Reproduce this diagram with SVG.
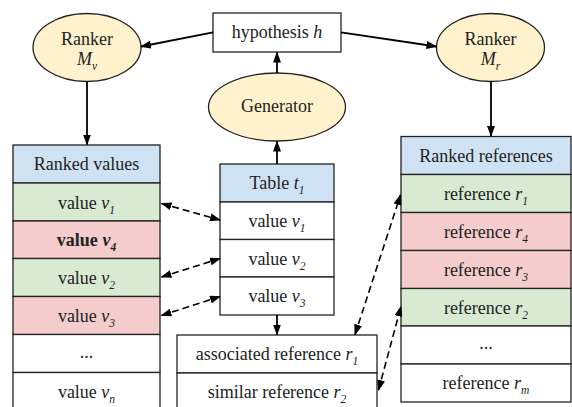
<svg xmlns="http://www.w3.org/2000/svg" width="572" height="407" viewBox="0 0 572 407">
<defs>
<marker id="ah" markerUnits="userSpaceOnUse" markerWidth="11" markerHeight="8" refX="10" refY="4" orient="auto-start-reverse">
<path d="M0,0 L11,4 L0,8 z" fill="#000"/>
</marker>
</defs>

<g id="hypothesis">
<rect x="213" y="13" width="128" height="39" fill="#fff" stroke="#222" stroke-width="1.3"/>
<text x="277" y="38" font-family="Liberation Serif" font-size="18" text-anchor="middle" fill="#222">hypothesis  <tspan font-style="italic">h</tspan></text>
</g>

<g id="rankerMv">
<ellipse cx="87" cy="47.5" rx="54" ry="34" fill="#fff2cc" stroke="#222" stroke-width="1.3"/>
<text x="87" y="45" font-family="Liberation Serif" font-size="18" text-anchor="middle" fill="#222">Ranker</text>
<text x="87" y="65" font-family="Liberation Serif" font-size="18" text-anchor="middle" fill="#222"><tspan font-style="italic">M</tspan><tspan font-style="italic" font-size="11.5" dy="5">v</tspan></text>
</g>

<g id="rankerMr">
<ellipse cx="490.5" cy="47.5" rx="54" ry="34" fill="#fff2cc" stroke="#222" stroke-width="1.3"/>
<text x="490.5" y="45" font-family="Liberation Serif" font-size="18" text-anchor="middle" fill="#222">Ranker</text>
<text x="490.5" y="65" font-family="Liberation Serif" font-size="18" text-anchor="middle" fill="#222"><tspan font-style="italic">M</tspan><tspan font-style="italic" font-size="11.5" dy="5">r</tspan></text>
</g>

<g id="generator">
<ellipse cx="277" cy="107" rx="68.5" ry="34" fill="#fff2cc" stroke="#222" stroke-width="1.3"/>
<text x="277" y="112" font-family="Liberation Serif" font-size="18" text-anchor="middle" fill="#222">Generator</text>
</g>

<g id="rankedValues">
<g stroke="#222" stroke-width="1.3">
<rect x="13" y="145" width="147" height="38" fill="#cfe2f3"/>
<rect x="13" y="183" width="147" height="38" fill="#d9ead3"/>
<rect x="13" y="221" width="147" height="37.5" fill="#f4cccc"/>
<rect x="13" y="258.5" width="147" height="38" fill="#d9ead3"/>
<rect x="13" y="296.5" width="147" height="38" fill="#f4cccc"/>
<rect x="13" y="334.5" width="147" height="38" fill="#fff"/>
<rect x="13" y="372.5" width="147" height="40" fill="#fff"/>
</g>
<text x="86.5" y="170" font-family="Liberation Serif" font-size="18" text-anchor="middle" fill="#222">Ranked values</text>
<text x="86.5" y="208.5" font-family="Liberation Serif" font-size="18" text-anchor="middle" fill="#222">value <tspan font-style="italic">v</tspan><tspan font-style="italic" font-size="11.5" dy="5">1</tspan></text>
<text x="86.5" y="246" font-family="Liberation Serif" font-size="18" text-anchor="middle" fill="#222" font-weight="bold">value <tspan font-style="italic">v</tspan><tspan font-style="italic" font-size="11.5" dy="5">4</tspan></text>
<text x="86.5" y="284" font-family="Liberation Serif" font-size="18" text-anchor="middle" fill="#222">value <tspan font-style="italic">v</tspan><tspan font-style="italic" font-size="11.5" dy="5">2</tspan></text>
<text x="86.5" y="322" font-family="Liberation Serif" font-size="18" text-anchor="middle" fill="#222">value <tspan font-style="italic">v</tspan><tspan font-style="italic" font-size="11.5" dy="5">3</tspan></text>
<text x="86.5" y="358" font-family="Liberation Serif" font-size="18" text-anchor="middle" fill="#222">...</text>
<text x="86.5" y="398" font-family="Liberation Serif" font-size="18" text-anchor="middle" fill="#222">value <tspan font-style="italic">v</tspan><tspan font-style="italic" font-size="11.5" dy="5">n</tspan></text>
</g>

<g id="table">
<g stroke="#222" stroke-width="1.3">
<rect x="220" y="164" width="114" height="38" fill="#cfe2f3"/>
<rect x="220" y="202" width="114" height="37.5" fill="#fff"/>
<rect x="220" y="239.5" width="114" height="37.5" fill="#fff"/>
<rect x="220" y="277" width="114" height="38" fill="#fff"/>
</g>
<text x="277" y="189" font-family="Liberation Serif" font-size="18" text-anchor="middle" fill="#222">Table <tspan font-style="italic">t</tspan><tspan font-style="italic" font-size="11.5" dy="5">1</tspan></text>
<text x="277" y="227" font-family="Liberation Serif" font-size="18" text-anchor="middle" fill="#222">value <tspan font-style="italic">v</tspan><tspan font-style="italic" font-size="11.5" dy="5">1</tspan></text>
<text x="277" y="264.5" font-family="Liberation Serif" font-size="18" text-anchor="middle" fill="#222">value <tspan font-style="italic">v</tspan><tspan font-style="italic" font-size="11.5" dy="5">2</tspan></text>
<text x="277" y="302" font-family="Liberation Serif" font-size="18" text-anchor="middle" fill="#222">value <tspan font-style="italic">v</tspan><tspan font-style="italic" font-size="11.5" dy="5">3</tspan></text>
</g>

<g id="references">
<g stroke="#222" stroke-width="1.3">
<rect x="177" y="335" width="200" height="38" fill="#fff"/>
<rect x="177" y="373" width="200" height="40" fill="#fff"/>
</g>
<text x="277" y="360" font-family="Liberation Serif" font-size="18" text-anchor="middle" fill="#222">associated reference <tspan font-style="italic">r</tspan><tspan font-style="italic" font-size="11.5" dy="5">1</tspan></text>
<text x="277" y="398" font-family="Liberation Serif" font-size="18" text-anchor="middle" fill="#222">similar reference <tspan font-style="italic">r</tspan><tspan font-style="italic" font-size="11.5" dy="5">2</tspan></text>
</g>

<g id="rankedReferences">
<g stroke="#222" stroke-width="1.3">
<rect x="401" y="136.5" width="170" height="38" fill="#cfe2f3"/>
<rect x="401" y="174.5" width="170" height="38" fill="#d9ead3"/>
<rect x="401" y="212.5" width="170" height="38" fill="#f4cccc"/>
<rect x="401" y="250.5" width="170" height="38" fill="#f4cccc"/>
<rect x="401" y="288.5" width="170" height="37.5" fill="#d9ead3"/>
<rect x="401" y="326" width="170" height="38" fill="#fff"/>
<rect x="401" y="364" width="170" height="38" fill="#fff"/>
</g>
<text x="486" y="162" font-family="Liberation Serif" font-size="18" text-anchor="middle" fill="#222">Ranked references</text>
<text x="486" y="200" font-family="Liberation Serif" font-size="18" text-anchor="middle" fill="#222">reference <tspan font-style="italic">r</tspan><tspan font-style="italic" font-size="11.5" dy="5">1</tspan></text>
<text x="486" y="238" font-family="Liberation Serif" font-size="18" text-anchor="middle" fill="#222">reference <tspan font-style="italic">r</tspan><tspan font-style="italic" font-size="11.5" dy="5">4</tspan></text>
<text x="486" y="276" font-family="Liberation Serif" font-size="18" text-anchor="middle" fill="#222">reference <tspan font-style="italic">r</tspan><tspan font-style="italic" font-size="11.5" dy="5">3</tspan></text>
<text x="486" y="313.5" font-family="Liberation Serif" font-size="18" text-anchor="middle" fill="#222">reference <tspan font-style="italic">r</tspan><tspan font-style="italic" font-size="11.5" dy="5">2</tspan></text>
<text x="486" y="349" font-family="Liberation Serif" font-size="18" text-anchor="middle" fill="#222">...</text>
<text x="486" y="389" font-family="Liberation Serif" font-size="18" text-anchor="middle" fill="#222">reference <tspan font-style="italic">r</tspan><tspan font-style="italic" font-size="11.5" dy="5">m</tspan></text>
</g>

<g id="connectors" fill="none" stroke="#000">
<g stroke-width="1.8" marker-end="url(#ah)">
<path d="M213,32.3 L141,46.5"/>
<path d="M341,32.3 L436.5,46.5"/>
<path d="M277,73 L277,52.5"/>
<path d="M87,81.5 L87,144.5"/>
<path d="M491,81.5 L491,136"/>
<path d="M277,164 L277,141.5"/>
<path d="M277,315 L277,334.5"/>
</g>
<g stroke-width="1.6" stroke-dasharray="7 4" marker-start="url(#ah)" marker-end="url(#ah)">
<path d="M161.5,203.5 L220,220"/>
<path d="M161.5,277 L220,258.5"/>
<path d="M161.5,315.5 L220,296.5"/>
<path d="M355,334.5 L400.5,195"/>
<path d="M378.5,390 L401,306.5"/>
</g>
</g>
</svg>
